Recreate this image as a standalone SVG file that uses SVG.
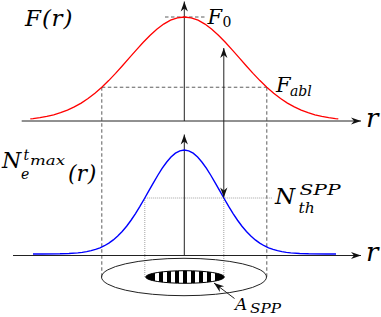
<svg xmlns="http://www.w3.org/2000/svg" width="381" height="317" viewBox="0 0 381 317">
<style>
.ax{stroke:#222;stroke-width:1;fill:none}
.dash{stroke:#333;stroke-width:0.8;stroke-dasharray:3.5 2.5;fill:none}
.dot{stroke:#8a8a8a;stroke-width:0.8;stroke-dasharray:1 1;fill:none}
.red{stroke:#f00;stroke-width:1.3;fill:none}
.blue{stroke:#00f;stroke-width:1.4;fill:none}
.up{font-style:normal}
</style>
<defs>
<marker id="ah" markerUnits="userSpaceOnUse" markerWidth="12" markerHeight="10" viewBox="-11 -5 12 10" refX="0" refY="0" orient="auto-start-reverse">
<path d="M0,0 L-10,-3.6 L-7,0 L-10,3.6 Z" fill="#111"/>
</marker>
<clipPath id="cl"><ellipse cx="185" cy="277" rx="39.3" ry="6.3"/></clipPath>
</defs>

<g id="guides">
<line class="dash" x1="165" y1="17" x2="205" y2="17"/>
<line class="dash" x1="101.8" y1="87.24" x2="266.8" y2="87.24"/>
<line class="dash" x1="101.8" y1="87.24" x2="101.8" y2="277"/>
<line class="dash" x1="266.8" y1="87.24" x2="266.8" y2="277"/>
<line class="dot" x1="144.8" y1="198" x2="272" y2="198"/>
<line class="dot" x1="144.8" y1="198" x2="144.8" y2="277"/>
<line class="dot" x1="223.8" y1="198" x2="223.8" y2="277"/>
</g>

<g font-family="DejaVu Serif, Liberation Serif, serif" font-style="italic" fill="#000">
<g id="top-plot">
<line class="ax" x1="21.7" y1="121" x2="361" y2="121" marker-end="url(#ah)"/>
<line class="ax" x1="184.3" y1="121" x2="184.3" y2="1.5" marker-end="url(#ah)"/>
<polyline class="red" points="30.3,118.94 33.05,118.63 39.93,117.68 46.8,116.43 53.68,114.8 60.55,112.73 67.43,110.12 74.3,106.92 81.18,103.07 88.05,98.51 94.93,93.23 101.8,87.24 108.68,80.59 115.55,73.39 122.43,65.77 129.3,57.92 136.18,50.08 143.05,42.5 149.93,35.45 156.8,29.22 163.68,24.06 170.55,20.2 177.43,17.81 184.3,17 191.18,17.81 198.05,20.2 204.93,24.06 211.8,29.22 218.68,35.45 225.55,42.5 232.43,50.08 239.3,57.92 246.18,65.77 253.05,73.39 259.93,80.59 266.8,87.24 273.68,93.23 280.55,98.51 287.43,103.07 294.3,106.92 301.18,110.12 308.05,112.73 314.93,114.8 321.8,116.43 328.68,117.68 335.55,118.63 338.3,118.94"/>
<text x="25" y="26" font-size="23">F<tspan dx="1">(</tspan><tspan dx="0.5">r</tspan><tspan dx="1">)</tspan></text>
<text x="207.5" y="23.5" font-size="21">F<tspan class="up" x="222.5" dy="3.5" font-size="14">0</tspan></text>
<text x="276" y="91.7" font-size="21">F<tspan x="290" dy="3.8" font-size="14">abl</tspan></text>
<text x="366" y="126.5" font-size="26">r</text>
</g>

<g id="bottom-plot">
<line class="ax" x1="13" y1="255.5" x2="361" y2="255.5" marker-end="url(#ah)"/>
<line class="ax" x1="184.3" y1="255.5" x2="184.3" y2="134.5" marker-end="url(#ah)"/>
<polyline class="blue" points="33,254 42.3,253.97 60.05,253.77 68.93,253.47 77.8,252.84 82.24,252.33 86.68,251.63 91.11,250.68 95.55,249.43 99.99,247.8 104.43,245.73 108.86,243.12 113.3,239.92 117.74,236.07 122.18,231.51 126.61,226.23 131.05,220.24 135.49,213.59 139.93,206.39 144.36,198.77 148.8,190.92 153.24,183.08 157.68,175.5 162.11,168.45 166.55,162.22 170.99,157.06 175.43,153.2 179.86,150.81 184.3,150 188.74,150.81 193.18,153.2 197.61,157.06 202.05,162.22 206.49,168.45 210.93,175.5 215.36,183.08 219.8,190.92 224.24,198.77 228.68,206.39 233.11,213.59 237.55,220.24 241.99,226.23 246.43,231.51 250.86,236.07 255.3,239.92 259.74,243.12 264.18,245.73 268.61,247.8 273.05,249.43 277.49,250.68 281.93,251.63 286.36,252.33 290.8,252.84 299.68,253.47 308.55,253.77 326.3,253.97 336,254"/>
<text x="2" y="168.3" font-size="22">N<tspan x="23.5" y="160" font-size="14">t</tspan><tspan x="30" y="164.5" font-size="13" textLength="35" lengthAdjust="spacingAndGlyphs">max</tspan><tspan x="21" y="178.5" font-size="14">e</tspan><tspan x="68" y="181" font-size="22">(</tspan><tspan>r</tspan><tspan dx="0.5">)</tspan></text>
<text x="275" y="204" font-size="23">N<tspan x="299.5" y="195" font-size="15.5" textLength="41" lengthAdjust="spacingAndGlyphs">SPP</tspan><tspan x="298.5" y="213" font-size="15.5">th</tspan></text>
<text x="366" y="261" font-size="26">r</text>
</g>

<g id="connectors">
<line class="ax" x1="223.8" y1="48" x2="223.8" y2="197.5" marker-start="url(#ah)" marker-end="url(#ah)"/>
<line class="ax" x1="234.5" y1="298.5" x2="214" y2="283" marker-end="url(#ah)"/>
</g>

<g id="spot">
<ellipse cx="184" cy="277" rx="82.5" ry="18.7" class="ax"/>
<ellipse cx="185" cy="277" rx="39.3" ry="6.3" fill="#fff"/>
<g clip-path="url(#cl)" fill="#000">
<rect x="144" y="268" width="11" height="18"/>
<rect x="159" y="268" width="4" height="18"/>
<rect x="167" y="268" width="4" height="18"/>
<rect x="175" y="268" width="4" height="18"/>
<rect x="183" y="268" width="4" height="18"/>
<rect x="191" y="268" width="4" height="18"/>
<rect x="199" y="268" width="4" height="18"/>
<rect x="207" y="268" width="4" height="18"/>
<rect x="215" y="268" width="11" height="18"/>
</g>
<ellipse cx="185" cy="277" rx="39.3" ry="6.3" fill="none" stroke="#000" stroke-width="1"/>
<text x="235" y="310" font-size="17">A<tspan x="250" y="313.3" font-size="13" textLength="31" lengthAdjust="spacingAndGlyphs">SPP</tspan></text>
</g>
</g>
</svg>
